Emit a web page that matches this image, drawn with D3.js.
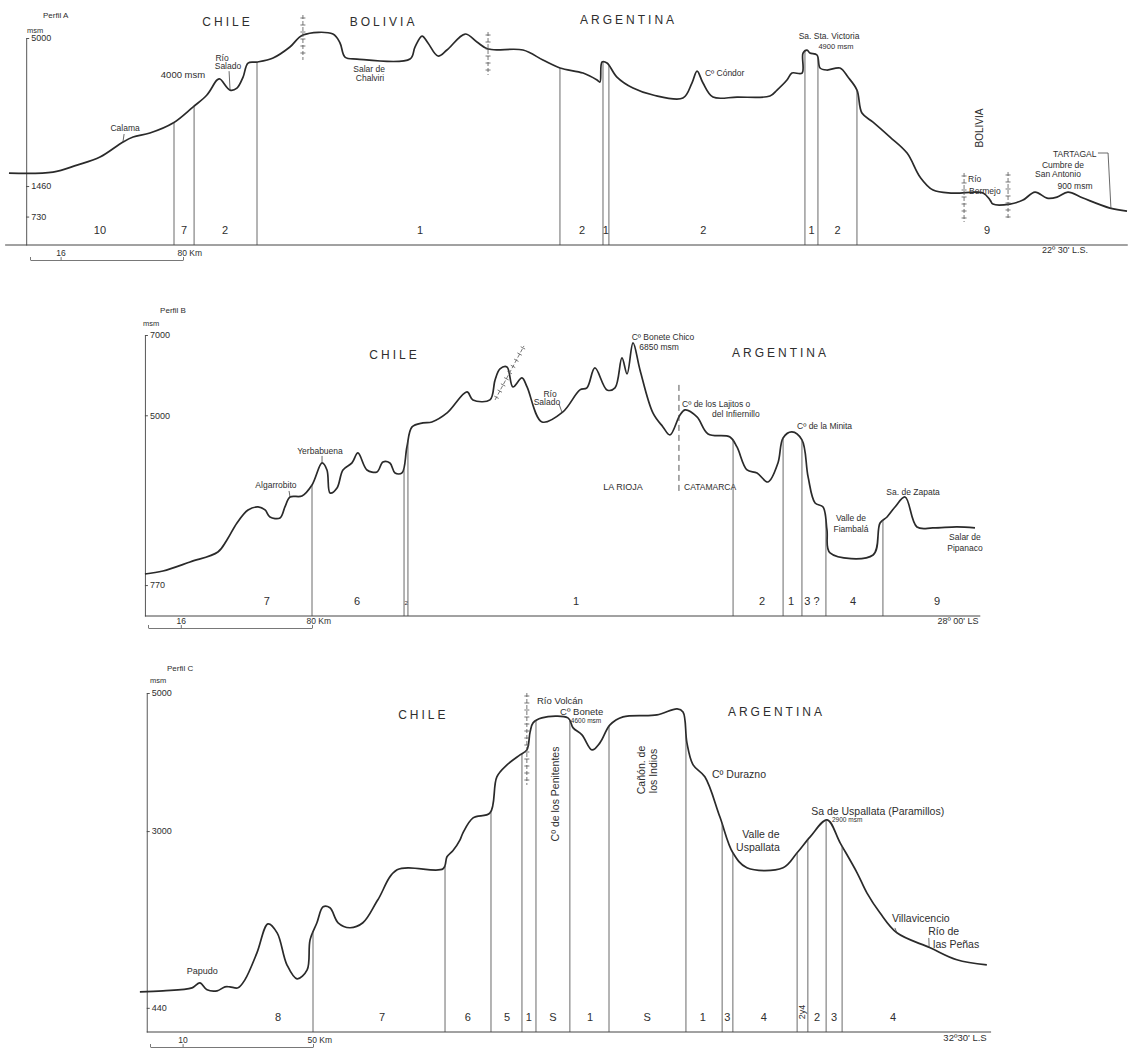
<!DOCTYPE html>
<html lang="es">
<head>
<meta charset="utf-8">
<title>Perfiles A, B y C</title>
<script src="https://cdn.jsdelivr.net/npm/d3@7/dist/d3.min.js"></script>
<style>
  body { margin: 0; background: #fff; }
  svg { display: block; font-family: "Liberation Sans", Arial, sans-serif; }
  text { fill: #2e2e2e; }
</style>
</head>
<body>
<svg id="chart" width="1138" height="1053"></svg>
<script>
// ---- Perfil A : [km, msm] ----
const profileA = [
  [-11, 1770], [12, 1794], [24.6, 1961], [36.6, 2153], [48.6, 2512], [53.9, 2631], [62.7, 2727],
  [74.8, 2966], [85.2, 3349], [92.5, 3636], [97.8, 3995], [99.3, 4019], [104.6, 3755], [108.2, 3803],
  [111.4, 4066], [114, 4401], [118.7, 4425], [127.1, 4521], [135.9, 4784], [142.7, 5071], [158.4, 5095],
  [162.1, 4880], [164.7, 4545], [171, 4497], [198.7, 4497], [201.3, 4784], [205, 5047], [208.1, 4880],
  [213.3, 4569], [218, 4712], [227.5, 5095], [233.7, 4904], [239.5, 4736], [257.8, 4712], [268.2, 4473],
  [277.1, 4282], [289.2, 4162], [296.5, 3995], [298, 3947], [299.1, 4425], [301.7, 4401], [306.9, 4066],
  [315.3, 3803], [325.8, 3636], [341.4, 3564], [346.1, 3923], [348.8, 4210], [351.9, 3923], [357.1, 3588],
  [369.7, 3588], [386.9, 3612], [390.6, 3755], [395.8, 3995], [398.4, 4162], [403.7, 4162], [404.2, 4640],
  [406.3, 4712], [407.8, 4640], [411.5, 4593], [413.1, 4282], [416.7, 4234], [423.5, 4282], [427.7, 4066],
  [432.4, 3755], [435, 3205], [440.8, 2990], [449.7, 2631], [458.6, 2248], [465.4, 1674], [472.2, 1363],
  [482.6, 1292], [498.3, 1292], [502, 1124], [503.5, 1029], [512.4, 1029], [519.2, 1124], [525.5, 1316],
  [531.8, 1172], [537, 1196], [542.7, 1316], [550.6, 1172], [564.7, 933], [573.6, 861]
];
const dividersA = [75.3, 85.8, 118.7, 277.1, 299.6, 302.7, 405.2, 412.0, 432.4];
const unitsA = [[36.6, '10'], [80.5, '7'], [102, '2'], [204, '1'], [288.6, '2'], [301.1, '1'],
  [352, '2'], [408.6, '1'], [422.2, '2'], [500.4, '9']];
const yTicksA = [730, 1460, 5000];
const barTicksA = [0, 16, 80];
const countriesA = [[102.5, 5287, 'CHILE'], [184.1, 5287, 'BOLIVIA'], [312.2, 5335, 'ARGENTINA']];
const notesA = [
  [6.8, 5477, 'Perfil A', 'start', 8], [-1.6, 5119, 'msm', 'start', 7.5],
  [49.7, 2776, 'Calama', 'middle'], [80, 4043, '4000 msm', 'middle', 9.5],
  [100.4, 4450, 'Río', 'middle'], [103.5, 4258, 'Salado', 'middle'],
  [177.3, 4187, 'Salar  de', 'middle'], [177.8, 3972, 'Chalviri', 'middle'],
  [352.9, 4091, 'Cº Cóndor', 'start'], [417.8, 4976, 'Sa. Sta. Victoria', 'middle'],
  [421.4, 4737, '4900 msm', 'middle', 7.5], [490.5, 1557, 'Río', 'start'], [491, 1270, 'Bermejo', 'start'],
  [540.1, 1892, 'Cumbre de', 'middle'], [537.5, 1676, 'San Antonio', 'middle'],
  [546.4, 1389, '900 msm', 'middle'], [534.9, 2155, 'TARTAGAL', 'start'],
  [541.2, -142, "22º 30' L.S.", 'middle', 9], [498.3, 2848, 'BOLIVIA', 'middle', 10, true]
];
const leadersA = [
  [[49.2, 2704], [48.6, null]], [[104.1, 4207], [104.6, null]],
  [[558.4, 2250], [563.7, 2250], [565.2, null]]
];
const bordersA = [[142.7, 5550, 142.7, 4474], [239.5, 5143, 239.5, 4115],
  [488.4, 1772, 488.4, 600], [511.4, 1796, 511.4, 648]];

// ---- Perfil B ----
const profileB = [
  [-1.5, 1047], [7.3, 1121], [20.5, 1346], [34.1, 1595], [38.5, 1894], [43.4, 2318], [48.8, 2642],
  [53.7, 2716], [57.1, 2642], [59.5, 2467], [64.4, 2442], [66.8, 2716], [69.3, 2965], [75.1, 2990],
  [80, 3265], [84.9, 3813], [87.3, 3638], [88.8, 3065], [92.2, 3190], [95.1, 3638], [99.5, 3813],
  [102.4, 4062], [106.8, 3638], [111.7, 3588], [114.6, 3838], [118, 3813], [120.5, 3564], [123.9, 3564],
  [126.3, 4211], [128.8, 4710], [134.1, 4810], [138.5, 4834], [145.9, 5059], [155.6, 5582], [158.5, 5383],
  [166.8, 5383], [169.3, 5881], [171.7, 6155], [175.1, 6205], [178, 5707], [182.4, 5931], [184.9, 5707],
  [192.2, 4834], [202.4, 5084], [210.7, 5632], [214.1, 5682], [218, 6180], [223.9, 5632], [227.8, 5682],
  [231.2, 6429], [233.7, 6031], [236.6, 6803], [240, 6130], [246.3, 5059], [251.2, 4710], [254.6, 4510],
  [259.5, 5009], [262, 5133], [267.8, 4959], [273.2, 4535], [283.9, 4461], [287.3, 4211], [292.2, 3638],
  [297.1, 3564], [302.4, 3339], [307.3, 3813], [309.8, 4436], [314.1, 4585], [319, 4386], [322, 3464],
  [325.4, 2816], [329.3, 2716], [331.2, 2143], [332.7, 1570], [353.7, 1520], [357.1, 2318], [360.5, 2467],
  [364.4, 2716], [369.3, 2965], [375.1, 2218], [382.9, 2193], [394.6, 2218], [403.4, 2193]
];
const dividersB = [80.0, 124.9, 126.8, 285.4, 309.8, 319.0, 330.7, 358.5];
const unitsB = [[58, '7'], [102, '6'], [125.9, '2', 6], [208.8, '1'], [299.5, '2'], [313.7, '1'],
  [323.9, '3 ?'], [343.9, '4'], [384.9, '9']];
const yTicksB = [770, 5000, 7000];
const barTicksB = [0, 16, 80];
const countriesB = [[119.5, 6404, 'CHILE'], [307.8, 6454, 'ARGENTINA']];
const notesB = [
  [5.9, 7551, 'Perfil B', 'start', 8], [-2.4, 7227, 'msm', 'start', 7.5],
  [251.2, 6878, 'Cº Bonete Chico', 'middle'], [249.3, 6629, '6850 msm', 'middle'],
  [196.1, 5457, 'Río', 'middle'], [194.6, 5258, 'Salado', 'middle'],
  [260.5, 5208, 'Cº de los Lajitos  o', 'start'], [275.1, 4959, 'del Infiernillo', 'start'],
  [316.6, 4660, 'Cº de la Minita', 'start'], [231.7, 3140, 'LA  RIOJA', 'middle', 9],
  [261.5, 3140, 'CATAMARCA', 'start'], [342.9, 2367, 'Valle de', 'middle'],
  [342.9, 2093, 'Fiambalá', 'middle'], [373.2, 3015, 'Sa. de Zapata', 'middle'],
  [398.5, 1894, 'Salar de', 'middle'], [398.5, 1620, 'Pipanaco', 'middle'],
  [62.4, 3190, 'Algarrobito', 'middle'], [83.9, 4037, 'Yerbabuena', 'middle'],
  [395.1, -199, "28º 00' LS", 'middle', 9]
];
const leadersB = [[[68.8, 3115], [69.3, null]], [[84.9, 3987], [84.9, null]], [[200.5, 5282], [202, null]]];
const bordersB = [[169.3, 5383, 183.4, 6728]];
const provinceLineB = [259.0, 5757, 3090];

// ---- Perfil C ----
const profileC = [
  [-3.1, 672], [4, 686], [12.9, 729], [15.3, 802], [17.5, 701], [20.6, 686], [23, 744], [24.5, 744],
  [27, 730], [29.1, 845], [32.8, 1236], [36.2, 1656], [39, 1526], [42, 1063], [45.1, 860], [48.2, 990],
  [49.1, 1424], [51.2, 1672], [53.1, 1903], [55.2, 1889], [57.7, 1672], [61.3, 1600], [65.3, 1672],
  [69.9, 2005], [75.8, 2439], [89.9, 2454], [91.1, 2628], [92.9, 2714], [95.1, 2874], [96, 2975],
  [99.1, 3192], [104.3, 3264], [106.4, 3786], [109.5, 3959], [113.5, 4104], [115.6, 4176], [116.6, 4437],
  [117.5, 4567], [120.2, 4640], [128.2, 4640], [129.8, 4495], [132.5, 4394], [135.6, 4176], [138, 4278],
  [141.1, 4538], [145.1, 4654], [155.5, 4683], [161.7, 4770], [163.5, 4726], [164.7, 4278], [166.6, 3959],
  [170.2, 3786], [174.8, 3207], [178.8, 2686], [183.1, 2469], [194.2, 2469], [198.5, 2686], [202.5, 2917],
  [207.7, 3163], [211.7, 2830], [216.9, 2396], [219.9, 2106], [223.9, 1817], [229.1, 1527], [239.3, 1310],
  [247.5, 1136], [256.7, 1063]
];
const dividersC = [50.0, 90.5, 104.6, 114.1, 118.4, 128.8, 140.8, 164.4, 175.5, 178.8, 198.5, 201.8, 207.4, 212.3];
const unitsC = [[39.3, '8'], [71.2, '7'], [97.5, '6'], [109.5, '5'], [116.2, '1'], [123.6, 'S'], [135, '1'],
  [152.5, 'S'], [169.6, '1'], [177.1, '3'], [188.3, '4'], [200.1, '2y4', 9, true], [204.6, '2'],
  [209.8, '3'], [227.9, '4']];
const yTicksC = [440, 3000, 5000];
const barTicksC = [0, 10, 50];
const countriesC = [[83.4, 4623, 'CHILE'], [191.7, 4667, 'ARGENTINA']];
const notesC = [
  [5.2, 5319, 'Perfil C', 'start', 8], [0, 5145, 'msm', 'start', 7.5],
  [118.7, 4840, 'Río Volcán', 'start', 9.5], [125.8, 4682, 'Cº Bonete', 'start', 9.5],
  [129.1, 4572, '4600 msm', 'start', 6.5], [125.5, 3537, 'Cº de los Penitentes', 'middle', 10.5, true],
  [151.8, 3885, 'Cañón. de', 'middle', 10.5, true], [155.5, 3870, 'los Indios', 'middle', 10.5, true],
  [172.4, 3769, 'Cº Durazno', 'start'], [187.4, 2900, 'Valle de', 'middle'],
  [186.5, 2712, 'Uspallata', 'middle'], [202.8, 3233, 'Sa de Uspallata (Paramillos)', 'start'],
  [209.2, 3132, '2900 msm', 'start', 6.5], [227.6, 1683, 'Villavicencio', 'start'],
  [238.7, 1495, 'Río de', 'start'], [240.2, 1307, 'las Peñas', 'start'],
  [16, 930, 'Papudo', 'middle', 9], [250, -40, "32º30' L.S", 'middle', 9.5]
];
const leadersC = [[[228.5, 1597], [229.1, null]], [[238.9, 1452], [239, null]]];
const bordersC = [[115.6, 5000, 115.6, 3668]];

const svg = d3.select('#chart');
const INK = '#2a2a2a';

const panels = [
  {
    name: 'A', profile: profileA, dividers: dividersA, units: unitsA, yTicks: yTicksA, barTicks: barTicksA,
    countries: countriesA, notes: notesA, leaders: leadersA, borders: bordersA,
    x: d3.scaleLinear().domain([0, 80]).range([30, 183]),
    y: d3.scaleLinear().domain([50, 5000]).range([245, 38]),
    axisKm: -2, baseKm: [-13, 574], barY: 260, noteSize: 8.5
  },
  {
    name: 'B', profile: profileB, dividers: dividersB, units: unitsB, yTicks: yTicksB, barTicks: barTicksB,
    countries: countriesB, notes: notesB, leaders: leadersB, borders: bordersB,
    x: d3.scaleLinear().domain([0, 80]).range([148, 312]),
    y: d3.scaleLinear().domain([0, 7000]).range([616, 335]),
    axisKm: -1.5, baseKm: [-1.5, 406], barY: 628, noteSize: 8.5
  },
  {
    name: 'C', profile: profileC, dividers: dividersC, units: unitsC, yTicks: yTicksC, barTicks: barTicksC,
    countries: countriesC, notes: notesC, leaders: leadersC, borders: bordersC,
    x: d3.scaleLinear().domain([0, 50]).range([150, 313]),
    y: d3.scaleLinear().domain([90, 5000]).range([1032, 693]),
    axisKm: -1, baseKm: [-1, 258], barY: 1047, noteSize: 10.5
  }
];

const drawBorder = (g, p, b) => {
  const [x1, y1, x2, y2] = [p.x(b[0]), p.y(b[1]), p.x(b[2]), p.y(b[3])];
  const len = Math.hypot(x2 - x1, y2 - y1);
  const ux = (x2 - x1) / len, uy = (y2 - y1) / len;
  g.append('line')
    .attr('x1', x1).attr('y1', y1).attr('x2', x2).attr('y2', y2)
    .style('stroke', '#555').style('stroke-width', 0.8).style('stroke-dasharray', '4,2');
  g.selectAll(null)
    .data(d3.range(3, len, 7))
    .enter().append('line')
    .attr('x1', (t) => x1 + ux * t - uy * 2.5)
    .attr('y1', (t) => y1 + uy * t + ux * 2.5)
    .attr('x2', (t) => x1 + ux * t + uy * 2.5)
    .attr('y2', (t) => y1 + uy * t - ux * 2.5)
    .style('stroke', '#555').style('stroke-width', 0.8);
};

const drawPanel = (p) => {
  const g = svg.append('g').attr('class', `perfil-${p.name}`);
  const { x, y } = p;
  const baseY = y(y.domain()[0]);

  // baseline
  g.append('line')
    .attr('x1', x(p.baseKm[0])).attr('x2', x(p.baseKm[1]))
    .attr('y1', baseY).attr('y2', baseY)
    .style('stroke', '#444').style('stroke-width', 1);

  // elevation axis
  const yAxis = g.append('g')
    .attr('transform', `translate(${x(p.axisKm)},0)`)
    .call(d3.axisRight(y).tickValues(p.yTicks).tickSize(3).tickSizeOuter(0).tickPadding(2)
      .tickFormat(d3.format('d')));
  yAxis.attr('font-family', null).attr('font-size', 9);
  yAxis.selectAll('path, line').style('stroke', '#444').style('stroke-width', 0.9);

  // scale bar
  const last = p.barTicks[p.barTicks.length - 1];
  const bar = g.append('g')
    .attr('transform', `translate(0,${p.barY})`)
    .call(d3.axisTop(x).tickValues(p.barTicks).tickSize(3).tickSizeOuter(0).tickPadding(1)
      .tickFormat((d) => (d === 0 ? '' : d === last ? `${d} Km` : d)));
  bar.attr('font-family', null).attr('font-size', 8.5);
  bar.selectAll('path, line').style('stroke', '#555').style('stroke-width', 0.8);
  bar.selectAll('text').filter((d) => d === last).attr('text-anchor', 'start').attr('dx', -6);

  // profile
  const line = d3.line()
    .x((d) => x(d[0]))
    .y((d) => y(d[1]))
    .curve(d3.curveCatmullRom.alpha(0.5));

  const path = g.append('path')
    .datum(p.profile)
    .attr('d', line)
    .style('fill', 'none')
    .style('stroke', INK)
    .style('stroke-width', 1.7)
    .style('stroke-linejoin', 'round');

  const node = path.node();
  const samples = d3.range(0, node.getTotalLength(), 0.5).map((l) => node.getPointAtLength(l));
  const lineY = (px) => d3.least(samples, (s) => Math.abs(s.x - px)).y;

  // dividers between units
  g.selectAll('.divider')
    .data(p.dividers)
    .enter().append('line')
    .attr('class', 'divider')
    .attr('x1', (d) => x(d)).attr('x2', (d) => x(d))
    .attr('y1', baseY)
    .attr('y2', (d) => lineY(x(d)))
    .style('stroke', '#444').style('stroke-width', 0.8);

  // unit numbers
  g.selectAll('.unit')
    .data(p.units)
    .enter().append('text')
    .attr('class', 'unit')
    .attr('transform', (d) => (d[3]
      ? `translate(${x(d[0]) + 3},${baseY - 20}) rotate(-90)`
      : `translate(${x(d[0])},${baseY - 11})`))
    .attr('text-anchor', 'middle')
    .attr('font-size', (d) => d[2] || 11)
    .text((d) => d[1]);

  // country names
  g.selectAll('.country')
    .data(p.countries)
    .enter().append('text')
    .attr('class', 'country')
    .attr('x', (d) => x(d[0]))
    .attr('y', (d) => y(d[1]))
    .attr('dx', 1.5)
    .attr('text-anchor', 'middle')
    .attr('font-size', 12)
    .style('letter-spacing', '3px')
    .text((d) => d[2]);

  // place names
  g.selectAll('.note')
    .data(p.notes)
    .enter().append('text')
    .attr('class', 'note')
    .attr('transform', (d) => `translate(${x(d[0])},${y(d[1])})${d[5] ? ' rotate(-90)' : ''}`)
    .attr('text-anchor', (d) => d[3])
    .attr('font-size', (d) => d[4] || p.noteSize)
    .text((d) => d[2]);

  // leader lines
  const leader = d3.line().x((d) => d[0]).y((d) => d[1]);
  g.selectAll('.leader')
    .data(p.leaders.map((pts) => pts.map((d) => [x(d[0]), d[1] === null ? lineY(x(d[0])) : y(d[1])])))
    .enter().append('path')
    .attr('class', 'leader')
    .attr('d', leader)
    .style('fill', 'none').style('stroke', '#444').style('stroke-width', 0.8);

  // border markers
  p.borders.forEach((b) => drawBorder(g, p, b));

  return g;
};

panels.forEach((p) => {
  const g = drawPanel(p);
  if (p.name === 'B') {
    g.append('line')
      .attr('x1', p.x(provinceLineB[0])).attr('x2', p.x(provinceLineB[0]))
      .attr('y1', p.y(provinceLineB[1])).attr('y2', p.y(provinceLineB[2]))
      .style('stroke', '#444').style('stroke-width', 0.9).style('stroke-dasharray', '6,4');
  }
});
</script>
</body>
</html>
